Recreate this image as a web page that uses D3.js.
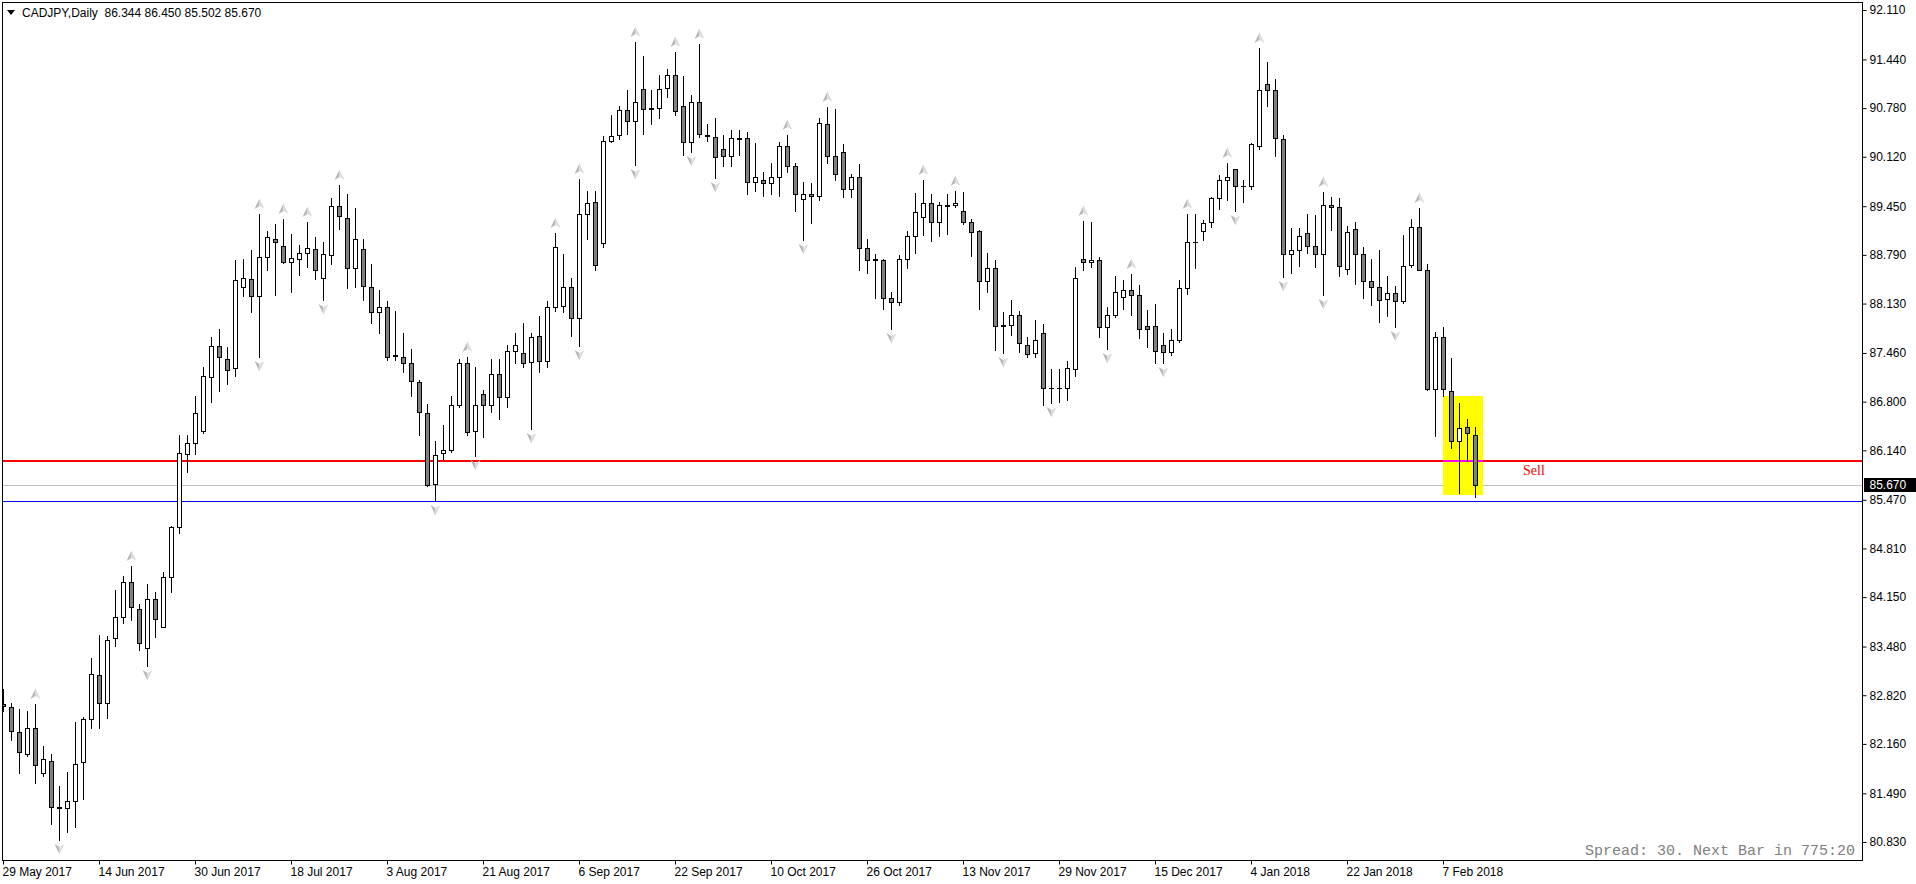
<!DOCTYPE html>
<html><head><meta charset="utf-8">
<script src="https://cdn.jsdelivr.net/npm/d3@7"></script>
<style>html,body{margin:0;padding:0;background:#fff;overflow:hidden}</style>
</head><body>
<svg id="c" width="1916" height="884"></svg>
<script>
const symbolTitle = "CADJPY,Daily";
const lastBarText = "86.344 86.450 85.502 85.670";

const openP = [82.70,82.66,82.32,82.02,82.37,81.76,81.93,81.30,81.29,81.39,
81.92,82.50,83.09,82.71,83.59,83.88,84.35,83.99,83.46,84.12,
83.75,84.42,85.10,86.09,86.24,86.40,87.14,87.55,87.38,87.25,
88.36,88.46,88.23,88.76,89.01,88.91,88.69,88.73,88.81,88.87,
88.48,88.79,89.45,89.29,88.61,88.87,88.36,88.02,88.09,87.43,
87.40,87.32,87.07,86.65,85.69,86.11,86.15,86.75,87.33,86.40,
86.90,86.76,87.18,86.86,87.49,87.46,87.34,87.69,87.35,88.09,
88.10,88.36,87.93,89.35,89.51,88.95,90.33,90.41,90.75,90.61,
91.04,90.77,90.78,91.05,91.23,90.81,90.32,90.86,90.42,90.39,
90.23,90.13,90.37,90.37,89.78,89.80,89.77,89.84,90.27,90.00,
89.55,89.61,89.59,90.57,90.13,90.18,89.68,89.84,88.89,88.72,
88.72,88.21,88.15,88.73,89.04,89.31,89.49,89.23,89.46,89.46,
89.39,89.23,89.11,88.43,88.61,87.82,87.84,87.98,87.57,87.46,
87.73,86.98,86.98,86.99,87.24,88.74,88.69,88.72,87.81,87.97,
88.22,88.32,88.24,87.83,87.83,87.57,87.48,87.64,88.34,88.96,
89.12,89.23,89.56,89.80,89.95,89.73,89.73,90.27,91.11,91.03,
90.36,88.80,88.86,89.08,88.91,88.80,89.47,89.44,88.60,89.14,
88.80,88.43,88.36,88.19,88.27,88.16,88.65,89.17,88.58,86.97,
87.67,86.95,86.26,86.45,86.344];
const highP = [82.90,82.72,82.63,82.61,82.70,82.13,82.02,81.59,81.78,82.46,
82.52,83.33,83.64,83.62,84.25,84.44,84.57,84.06,84.33,84.22,
84.49,85.12,86.35,86.35,86.87,87.27,87.67,87.78,87.54,88.72,
88.74,88.85,89.35,89.12,89.21,89.28,89.07,88.92,89.24,89.03,
88.96,89.56,89.74,89.61,89.42,89.00,88.66,88.31,88.16,88.03,
87.73,87.51,87.09,86.77,86.27,86.48,86.87,87.38,87.40,87.27,
86.96,87.38,87.38,87.57,87.73,87.86,87.73,87.96,88.16,89.09,
88.80,88.47,89.82,89.65,89.66,90.40,90.68,90.81,91.03,91.67,
91.49,91.03,91.23,91.31,91.54,91.21,90.96,91.65,90.56,90.64,
90.41,90.48,90.48,90.46,90.31,89.91,90.03,90.32,90.41,90.03,
89.78,89.76,90.64,90.79,90.77,90.30,89.89,90.02,89.00,88.80,
88.74,88.28,88.79,89.12,89.63,89.81,89.62,89.51,89.62,89.65,
89.64,89.28,89.13,88.81,88.72,88.02,88.18,88.03,87.68,87.91,
87.85,87.24,87.24,87.35,88.62,89.25,89.24,88.76,88.09,88.51,
88.45,88.53,88.38,88.04,88.12,87.73,87.79,88.45,89.34,89.34,
89.26,89.58,89.87,90.04,89.96,89.81,90.31,91.60,91.40,91.17,
90.42,89.15,89.16,89.34,89.33,89.64,89.57,89.56,89.18,89.24,
88.90,88.73,88.86,88.50,88.37,89.06,89.28,89.43,88.66,87.75,
87.81,87.39,86.78,86.57,86.450];
const lowP = [82.60,82.21,81.76,82.00,81.63,81.73,81.08,80.86,80.97,81.04,
81.41,82.37,82.37,82.51,83.49,83.80,83.84,83.43,83.21,83.61,
83.74,84.22,85.02,85.85,86.09,86.38,86.79,86.95,87.04,87.15,
88.23,88.02,87.41,88.59,88.25,88.68,88.29,88.52,88.62,88.46,
88.18,88.67,89.14,88.34,88.36,88.18,87.87,87.73,87.36,87.36,
87.20,86.88,86.35,85.66,85.45,86.02,86.12,86.73,86.35,86.06,
86.32,86.66,86.56,86.73,87.33,87.27,86.43,87.20,87.27,88.03,
88.02,87.69,87.56,89.01,88.58,88.90,90.32,90.36,90.43,90.01,
90.43,90.56,90.65,90.93,90.68,90.14,90.19,90.39,90.33,89.83,
90.00,90.00,90.14,89.62,89.66,89.59,89.62,89.59,89.92,89.38,
88.99,89.22,89.54,90.04,89.80,89.57,89.57,88.59,88.54,88.20,
88.06,87.79,88.11,88.61,88.81,89.06,88.98,89.04,89.07,89.44,
89.21,88.78,88.05,88.29,87.50,87.46,87.70,87.48,87.40,87.41,
86.75,86.78,86.80,86.82,87.15,88.58,88.62,87.67,87.51,87.95,
88.05,87.97,87.66,87.54,87.33,87.33,87.43,87.61,88.26,88.61,
88.99,89.17,89.41,89.53,89.39,89.51,89.68,90.23,90.81,90.13,
88.49,88.55,88.64,88.82,88.62,88.25,89.13,88.51,88.53,88.40,
88.20,88.11,87.88,87.96,87.81,88.14,88.63,88.58,86.96,86.34,
86.87,86.17,85.56,86.00,85.502];
const closeP = [82.68,82.33,82.05,82.38,81.87,81.96,81.31,81.29,81.39,81.89,
82.50,83.11,82.71,83.57,83.88,84.35,84.01,83.53,84.13,83.86,
84.42,85.10,86.11,86.24,86.65,87.15,87.55,87.41,87.23,88.45,
88.47,88.23,88.76,89.03,88.96,88.70,88.75,88.82,88.88,88.59,
88.80,89.45,89.32,88.61,89.00,88.37,88.02,88.09,87.41,87.42,
87.33,87.08,86.66,85.67,86.08,86.14,86.75,87.33,86.39,86.75,
86.76,87.18,86.86,87.49,87.57,87.33,87.67,87.35,88.09,88.90,
88.36,87.93,89.35,89.49,88.65,90.33,90.40,90.76,90.61,90.86,
90.77,90.78,91.04,91.23,90.74,90.32,90.86,90.43,90.40,90.12,
90.13,90.37,90.36,89.78,89.84,89.77,89.84,90.27,90.00,89.62,
89.61,89.59,90.58,90.13,89.89,89.68,89.84,88.88,88.72,88.74,
88.21,88.15,88.73,89.05,89.37,89.50,89.23,89.46,89.45,89.49,
89.23,89.10,88.43,88.61,87.82,87.84,87.98,87.59,87.45,87.64,
86.99,86.98,86.98,87.25,88.48,88.69,88.72,87.81,87.97,88.28,
88.32,88.24,87.79,87.78,87.49,87.48,87.64,88.34,88.96,88.97,
89.22,89.56,89.80,89.84,89.73,89.73,90.29,91.03,91.03,90.37,
88.80,88.86,89.05,88.91,88.80,89.46,89.44,88.64,89.10,88.80,
88.44,88.36,88.18,88.27,88.16,88.64,89.17,88.59,86.97,87.68,
86.97,86.26,86.44,86.37,85.670];

const dateLabels = ["29 May 2017","14 Jun 2017","30 Jun 2017","18 Jul 2017","3 Aug 2017","21 Aug 2017",
"6 Sep 2017","22 Sep 2017","10 Oct 2017","26 Oct 2017","13 Nov 2017","29 Nov 2017","15 Dec 2017",
"4 Jan 2018","22 Jan 2018","7 Feb 2018"];
const dateLabelBars = [0,12,24,36,48,60,72,84,96,108,120,132,144,156,168,180];
const priceTicks = [92.110,91.440,90.780,90.120,89.450,88.790,88.130,87.460,86.800,86.140,
85.470,84.810,84.150,83.480,82.820,82.160,81.490,80.830];

const upFractals = [4,16,32,35,38,42,58,69,72,79,84,87,98,103,115,119,135,141,148,153,157,165,177];
const downFractals = [7,18,32,40,54,59,66,72,79,86,89,100,111,125,131,138,145,154,160,165,174];

const sellLevel = 86.00;
const stopLevel = 85.45;
const bidLevel = 85.670;
const boxTop = 86.88, boxBottom = 85.53, boxFrom = 180, boxTo = 185;
const sellLabel = "Sell";
const spreadText = "Spread: 30. Next Bar in 775:20";

const svg = d3.select('#c');
const L = 2, T = 2, R = 1862, B = 860;
const x = d3.scaleLinear().domain([0, 184]).range([3, 1475]);
const y = d3.scaleLinear().domain([80.83, 92.11]).range([842, 10]);

svg.append('rect').attr('width',1916).attr('height',884).attr('fill','#fff');
svg.append('defs').append('clipPath').attr('id','clip')
  .append('rect').attr('x',L+1).attr('y',T+1).attr('width',R-L-1).attr('height',B-T-1);
const g = svg.append('g').attr('clip-path','url(#clip)');

// bid line
const yBid = Math.round(y(bidLevel)) + 0.5;
g.append('line').attr('x1',L).attr('x2',R).attr('y1',yBid).attr('y2',yBid).attr('stroke','#c0c0c0');
// stop line
const yStop = Math.round(y(stopLevel)) + 0.5;
g.append('line').attr('x1',L).attr('x2',R).attr('y1',yStop).attr('y2',yStop).attr('stroke','#0000ff');
// yellow box
const bx0 = Math.round(x(boxFrom)), bx1 = Math.round(x(boxTo));
const by0 = Math.round(y(boxTop)), by1 = Math.round(y(boxBottom));
g.append('rect').attr('x',bx0).attr('y',by0).attr('width',bx1-bx0).attr('height',by1-by0).attr('fill','#ffff00');
// sell line
const ySell = Math.round(y(sellLevel));
g.append('line').attr('x1',L).attr('x2',R).attr('y1',ySell).attr('y2',ySell).attr('stroke','#ff0000').attr('stroke-width',2);
g.append('line').attr('x1',bx0).attr('x2',bx1).attr('y1',ySell).attr('y2',ySell).attr('stroke','#ff00ff').attr('stroke-width',2);
g.append('text').attr('x',1523).attr('y',ySell+14).text(sellLabel)
  .attr('font-family','"Liberation Serif", serif').attr('font-size',14).attr('fill','#ff0000');

// candles
const bars = d3.range(openP.length).map(i => ({i, o:openP[i], h:highP[i], l:lowP[i], c:closeP[i]}));
const cg = g.append('g');
const cs = cg.selectAll('g.c').data(bars).join('g').attr('class','c');
cs.append('line')
  .attr('x1', d => Math.round(x(d.i)) + 0.5).attr('x2', d => Math.round(x(d.i)) + 0.5)
  .attr('y1', d => Math.round(y(d.h))).attr('y2', d => Math.round(y(d.l)) + 1)
  .attr('stroke','#000').attr('stroke-width',1);
cs.each(function(d){
  const sel = d3.select(this);
  const cx = Math.round(x(d.i));
  const yt = Math.round(y(Math.max(d.o,d.c))), yb = Math.round(y(Math.min(d.o,d.c)));
  if (yb - yt >= 1) {
    sel.append('rect').attr('x',cx-1.5).attr('y',yt+0.5).attr('width',4).attr('height',yb-yt)
      .attr('fill', d.c >= d.o ? '#ffffff' : '#808080').attr('stroke','#000').attr('stroke-width',1);
  } else {
    sel.append('line').attr('x1',cx-2).attr('x2',cx+3).attr('y1',yt+0.5).attr('y2',yt+0.5)
      .attr('stroke','#000').attr('stroke-width',1);
  }
});

// fractals
const fg = g.append('g');
function arrow(sel, up){
  const s = up ? 1 : -1;
  sel.append('path').attr('d', `M0,${-5.5*s} L0,${2*s} L-5,${5*s} Z`).attr('fill','#b8b8b8');
  sel.append('path').attr('d', `M0,${-5.5*s} L5,${5*s} L0,${2*s} Z`).attr('fill','#dedede');
}
upFractals.forEach(i => {
  const a = fg.append('g').attr('transform',`translate(${Math.round(x(i))+0.5},${Math.round(y(highP[i]))-10})`);
  arrow(a, true);
});
downFractals.forEach(i => {
  const a = fg.append('g').attr('transform',`translate(${Math.round(x(i))+0.5},${Math.round(y(lowP[i]))+9})`);
  arrow(a, false);
});

// spread text
svg.append('text').attr('x',1855).attr('y',855).attr('text-anchor','end').text(spreadText)
  .attr('font-family','"Liberation Mono", monospace').attr('font-size',15).attr('fill','#808080');

// frame
svg.append('rect').attr('x',L+0.5).attr('y',T+0.5).attr('width',R-L).attr('height',B-T)
  .attr('fill','none').attr('stroke','#000').attr('stroke-width',1);

// price axis
const yAxis = d3.axisRight(y).tickValues(priceTicks).tickSize(4).tickPadding(3).tickFormat(d3.format('.3f'));
const ya = svg.append('g').attr('transform',`translate(${R+0.5},0)`).call(yAxis);
ya.select('.domain').remove();
ya.selectAll('text').attr('font-family','"Liberation Sans", Arial, sans-serif').attr('font-size',12).attr('fill','#000');
ya.selectAll('line').attr('stroke','#000');

// bid price label
const bl = svg.append('g');
bl.append('rect').attr('x',R+2).attr('y',Math.round(y(bidLevel))-7).attr('width',52).attr('height',14).attr('fill','#000');
bl.append('text').attr('x',R+7.5).attr('y',Math.round(y(bidLevel))).attr('dy','0.35em').text(d3.format('.3f')(bidLevel))
  .attr('font-family','"Liberation Sans", Arial, sans-serif').attr('font-size',12).attr('fill','#fff');

// time axis
const xAxis = d3.axisBottom(x).tickValues(dateLabelBars).tickSize(4).tickPadding(3)
  .tickFormat((d,i) => dateLabels[i]);
const xa = svg.append('g').attr('transform',`translate(0,${B+0.5})`).call(xAxis);
xa.select('.domain').remove();
xa.selectAll('text').attr('text-anchor','start').attr('x',-1)
  .attr('font-family','"Liberation Sans", Arial, sans-serif').attr('font-size',12).attr('fill','#000');
xa.selectAll('line').attr('stroke','#000');

// header
svg.append('path').attr('d','M7,10 L15,10 L11,15 Z').attr('fill','#000');
svg.append('text').attr('x',22).attr('y',17).attr('xml:space','preserve')
  .text(symbolTitle + '  ' + lastBarText)
  .attr('font-family','"Liberation Sans", Arial, sans-serif').attr('font-size',12).attr('fill','#000')
  .style('white-space','pre');
</script>
</body></html>
